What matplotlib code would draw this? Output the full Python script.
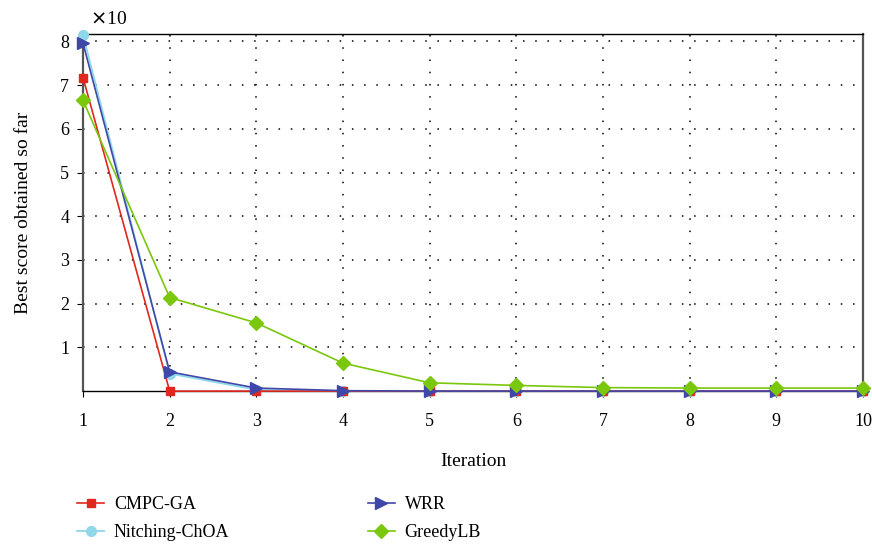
import numpy as np
import matplotlib.pyplot as plt
from matplotlib.ticker import MultipleLocator

plt.rcParams['font.family'] = ['Liberation Serif', 'DejaVu Serif']

iterations = list(range(1, 11))
cmpc_ga = [7.17, 0, 0, 0, 0, 0, 0, 0, 0, 0]
nitching = [8.15, 0.40, 0.03, 0, 0, 0, 0, 0, 0, 0]
wrr = [7.96, 0.44, 0.07, 0.01, 0, 0, 0, 0, 0, 0]
greedy = [6.65, 2.14, 1.56, 0.64, 0.19, 0.13, 0.08, 0.07, 0.07, 0.07]

fig = plt.figure(figsize=(8.72, 5.47), dpi=100)
ax = fig.add_axes([0.0952, 0.285, 0.8945, 0.653])

ax.plot(iterations, nitching, c='#8fd8ea', marker='o', ms=7, lw=1.3, label='Nitching-ChOA', zorder=3, clip_on=False)
ax.plot(iterations, cmpc_ga, c='#e0281e', marker='s', ms=6, lw=1.2, label='CMPC-GA', zorder=4, clip_on=False)
ax.plot(iterations, wrr, c='#3f48a8', marker='>', ms=8, lw=1.2, label='WRR', zorder=5, clip_on=False)
ax.plot(iterations, greedy, c='#7ac70c', marker='D', ms=7, lw=1.2, label='GreedyLB', zorder=6, clip_on=False)

ax.set_xlim(1, 10)
ax.set_ylim(0, 8.17)
ax.xaxis.set_major_locator(MultipleLocator(1))
ax.set_yticks(range(1, 9))
ax.grid(True, ls=(0, (1, 7)), c='black', lw=1.1)
ax.tick_params(labelsize=13, direction='out', length=4)
ax.tick_params(axis='x', pad=12)
ax.tick_params(axis='y', pad=6)
for s in ['left', 'right']:
    ax.spines[s].set_color('#555555')
    ax.spines[s].set_linewidth(1.6)
for s in ['top', 'bottom']:
    ax.spines[s].set_color('black')
    ax.spines[s].set_linewidth(1)
ax.text(1.08, 8.4, r'$\times$10', fontsize=14, clip_on=False)

ax.set_xlabel('Iteration', fontsize=14, labelpad=16)
ax.set_ylabel('Best score obtained so far', fontsize=14, labelpad=20)

handles, labels = ax.get_legend_handles_labels()
order = [1, 0, 2, 3]
fig.legend([handles[i] for i in order], [labels[i] for i in order],
           loc='upper left', bbox_to_anchor=(77 / 872, 0.0927), ncol=2, frameon=False,
           borderpad=0, borderaxespad=0,
           fontsize=13, columnspacing=7.65, handlelength=1.5, handletextpad=0.55, labelspacing=0.6)

fig.savefig('out.png', dpi=100)
